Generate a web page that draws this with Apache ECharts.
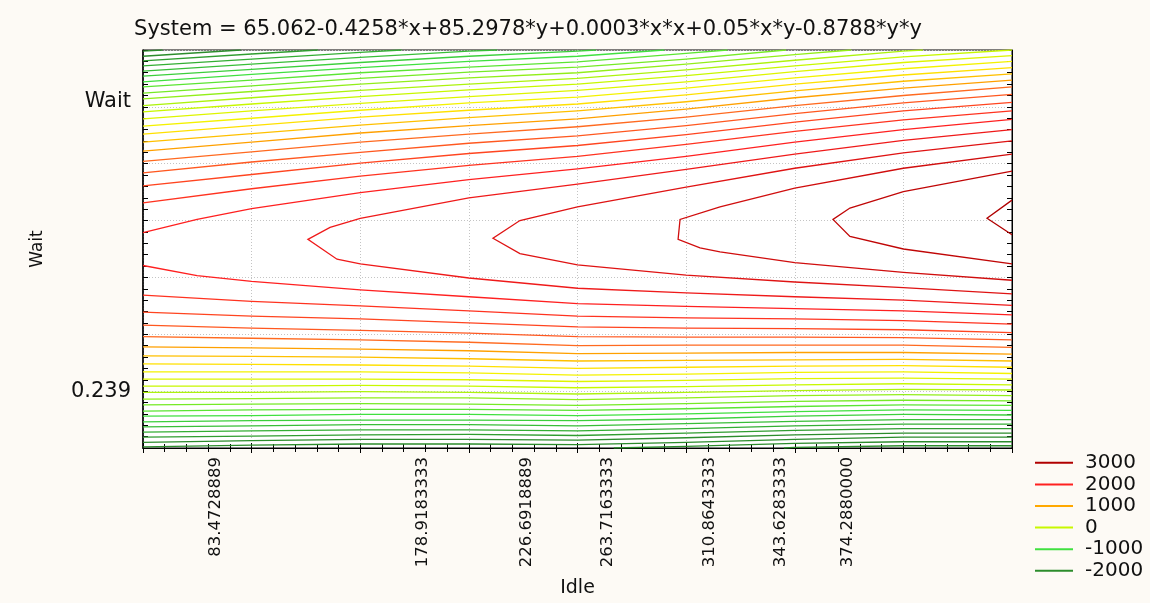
<!DOCTYPE html>
<html>
<head>
<meta charset="utf-8">
<script src="https://cdn.jsdelivr.net/npm/echarts@6/dist/echarts.min.js"></script>
<style>
  html, body { margin: 0; padding: 0; background: #fdfaf5; }
  #chart { width: 1150px; height: 603px; }
</style>
</head>
<body>
<div id="chart"></div>
<script>
const titleText = 'System = 65.062-0.4258*x+85.2978*y+0.0003*x*x+0.05*x*y-0.8788*y*y'

const legendLevels = [3000, 2000, 1000, 0, -1000, -2000]
const legendColors = ['#b00000', '#ff2020', '#ffa800', '#c8f800', '#40e040', '#2c8c2c']
// colour ramp used for the individual contour lines
const rampLevels = [3000, 2000, 1200, 1000, 500, 0, -1000, -2000]
const rampColors = ['#b00000', '#ff2020', '#ff6a20', '#ffa000', '#fff000', '#c8f800', '#40e040', '#2c8c2c']

const xTickValues = [83.4728889, 178.9183333, 226.6918889, 263.7163333, 310.8643333, 343.6283333, 374.2880000]
const xTickLabels = ['83.4728889', '178.9183333', '226.6918889', '263.7163333', '310.8643333', '343.6283333', '374.2880000']
const yTickValues = [1.0, 6.09]
const yTickLabels = ['0.239', 'Wait']

// contour lines above the ridge
const upperLevels = [2000, 1800, 1600, 1400, 1200, 1000, 800, 600, 400, 200, 0,
  -200, -400, -600, -800, -1000, -1200, -1400, -1600, -1800, -2000, -2200]
const upperLines = [
  [[50, 3.79], [74.9, 4.02], [100, 4.21], [150, 4.49], [200, 4.72], [250, 4.91], [300, 5.13], [350, 5.38], [400, 5.60], [450, 5.78]],
  [[50, 4.31], [100, 4.56], [150, 4.78], [200, 4.97], [250, 5.13], [300, 5.34], [350, 5.57], [400, 5.77], [450, 5.93]],
  [[50, 4.61], [100, 4.81], [150, 5.01], [200, 5.18], [250, 5.32], [300, 5.51], [350, 5.73], [400, 5.93], [450, 6.08]],
  [[50, 4.84], [100, 5.03], [150, 5.20], [200, 5.36], [250, 5.49], [300, 5.67], [350, 5.88], [400, 6.07], [450, 6.22]],
  [[50, 5.04], [100, 5.21], [150, 5.38], [200, 5.52], [250, 5.65], [300, 5.82], [350, 6.02], [400, 6.20], [450, 6.35]],
  [[50, 5.22], [100, 5.38], [150, 5.54], [200, 5.67], [250, 5.79], [300, 5.96], [350, 6.16], [400, 6.33], [450, 6.47]],
  [[50, 5.38], [100, 5.53], [150, 5.68], [200, 5.81], [250, 5.93], [300, 6.09], [350, 6.28], [400, 6.45], [450, 6.58]],
  [[50, 5.52], [100, 5.67], [150, 5.82], [200, 5.94], [250, 6.05], [300, 6.21], [350, 6.40], [400, 6.56], [450, 6.69]],
  [[50, 5.66], [100, 5.80], [150, 5.94], [200, 6.07], [250, 6.17], [300, 6.33], [350, 6.51], [400, 6.67], [450, 6.80]],
  [[50, 5.79], [100, 5.93], [150, 6.06], [200, 6.18], [250, 6.29], [300, 6.44], [350, 6.62], [400, 6.78], [450, 6.90]],
  [[50, 5.91], [100, 6.05], [150, 6.18], [200, 6.30], [250, 6.40], [300, 6.55], [350, 6.72], [400, 6.88], [450, 7.00]],
  [[50, 6.02], [100, 6.16], [150, 6.29], [200, 6.40], [250, 6.50], [300, 6.65], [350, 6.82], [400, 6.98], [409, 7]],
  [[50, 6.14], [100, 6.27], [150, 6.40], [200, 6.51], [250, 6.60], [300, 6.75], [350, 6.92], [376, 7]],
  [[50, 6.24], [100, 6.37], [150, 6.50], [200, 6.61], [250, 6.70], [300, 6.84], [346, 7]],
  [[50, 6.35], [100, 6.47], [150, 6.60], [200, 6.70], [250, 6.79], [300, 6.94], [319, 7]],
  [[50, 6.44], [100, 6.57], [150, 6.69], [200, 6.80], [250, 6.89], [290, 7]],
  [[50, 6.54], [100, 6.66], [150, 6.78], [200, 6.89], [250, 6.98], [258.5, 7]],
  [[50, 6.63], [100, 6.75], [150, 6.87], [200, 6.98], [213, 7]],
  [[50, 6.72], [100, 6.84], [150, 6.96], [169, 7]],
  [[50, 6.81], [100, 6.93], [130.5, 7]],
  [[50, 6.89], [95, 7]],
  [[50, 6.98], [59, 7]]
]

// contour lines below the ridge
const lowerLevels = [2000, 1800, 1600, 1400, 1200, 1000, 800, 600, 400, 200, 0,
  -200, -400, -600, -800, -1000, -1200, -1400, -1600, -1800, -2000, -2200, -2400, -2600]
const lowerLines = [
  [[50, 3.21], [74.9, 3.03], [100, 2.93], [150, 2.78], [200, 2.66], [250, 2.54], [300, 2.49], [350, 2.45], [400, 2.41], [450, 2.34]],
  [[50, 2.69], [100, 2.58], [150, 2.50], [200, 2.41], [250, 2.32], [300, 2.29], [350, 2.27], [400, 2.24], [450, 2.18]],
  [[50, 2.39], [100, 2.32], [150, 2.27], [200, 2.20], [250, 2.13], [300, 2.11], [350, 2.10], [400, 2.08], [450, 2.03]],
  [[50, 2.16], [100, 2.11], [150, 2.07], [200, 2.02], [250, 1.96], [300, 1.95], [350, 1.95], [400, 1.94], [450, 1.90]],
  [[50, 1.96], [100, 1.93], [150, 1.90], [200, 1.86], [250, 1.80], [300, 1.81], [350, 1.81], [400, 1.81], [450, 1.77]],
  [[50, 1.78], [100, 1.76], [150, 1.74], [200, 1.71], [250, 1.66], [300, 1.67], [350, 1.68], [400, 1.68], [450, 1.65]],
  [[50, 1.62], [100, 1.61], [150, 1.60], [200, 1.57], [250, 1.53], [300, 1.54], [350, 1.55], [400, 1.56], [450, 1.53]],
  [[50, 1.48], [100, 1.47], [150, 1.46], [200, 1.44], [250, 1.40], [300, 1.42], [350, 1.44], [400, 1.45], [450, 1.42]],
  [[50, 1.34], [100, 1.34], [150, 1.34], [200, 1.32], [250, 1.28], [300, 1.30], [350, 1.33], [400, 1.34], [450, 1.31]],
  [[50, 1.21], [100, 1.21], [150, 1.21], [200, 1.20], [250, 1.17], [300, 1.19], [350, 1.22], [400, 1.23], [450, 1.21]],
  [[50, 1.09], [100, 1.09], [150, 1.10], [200, 1.09], [250, 1.06], [300, 1.08], [350, 1.11], [400, 1.13], [450, 1.11]],
  [[50, 0.98], [100, 0.98], [150, 0.99], [200, 0.98], [250, 0.95], [300, 0.98], [350, 1.01], [400, 1.03], [450, 1.02]],
  [[50, 0.86], [100, 0.87], [150, 0.88], [200, 0.88], [250, 0.85], [300, 0.88], [350, 0.92], [400, 0.94], [450, 0.92]],
  [[50, 0.76], [100, 0.77], [150, 0.78], [200, 0.77], [250, 0.75], [300, 0.78], [350, 0.82], [400, 0.84], [450, 0.83]],
  [[50, 0.65], [100, 0.67], [150, 0.68], [200, 0.68], [250, 0.66], [300, 0.69], [350, 0.73], [400, 0.76], [450, 0.75]],
  [[50, 0.56], [100, 0.57], [150, 0.59], [200, 0.59], [250, 0.57], [300, 0.60], [350, 0.64], [400, 0.67], [450, 0.66]],
  [[50, 0.46], [100, 0.48], [150, 0.49], [200, 0.49], [250, 0.48], [300, 0.51], [350, 0.56], [400, 0.59], [450, 0.58]],
  [[50, 0.37], [100, 0.39], [150, 0.41], [200, 0.41], [250, 0.39], [300, 0.43], [350, 0.47], [400, 0.50], [450, 0.50]],
  [[50, 0.28], [100, 0.30], [150, 0.32], [200, 0.32], [250, 0.30], [300, 0.34], [350, 0.39], [400, 0.42], [450, 0.42]],
  [[50, 0.19], [100, 0.21], [150, 0.23], [200, 0.24], [250, 0.22], [300, 0.26], [350, 0.31], [400, 0.34], [450, 0.34]],
  [[50, 0.10], [100, 0.13], [150, 0.15], [200, 0.15], [250, 0.14], [300, 0.18], [350, 0.23], [400, 0.26], [450, 0.26]],
  [[50, 0.02], [100, 0.05], [150, 0.07], [200, 0.07], [250, 0.06], [300, 0.10], [350, 0.15], [400, 0.19], [450, 0.19]],
  [[266.7, 0], [300, 0.03], [350, 0.08], [400, 0.11], [450, 0.11]],
  [[345, 0], [350, 0.01], [400, 0.04], [450, 0.04]]
]

// contours that close around the rising ridge (open to the right edge)
const peakLevels = [2200, 2400, 2600, 2800, 3000]
const peakLines = [
  [[450, 5.60], [400, 5.41], [350, 5.17], [300, 4.90], [250, 4.64], [200, 4.40], [150, 4.04], [136.1, 3.88], [125.9, 3.67],
    [139.3, 3.32], [150, 3.24], [200, 2.99], [250, 2.81], [300, 2.73], [350, 2.66], [400, 2.60], [450, 2.51]],
  [[450, 5.40], [400, 5.19], [350, 4.92], [300, 4.59], [250, 4.24], [223.5, 4.00], [211.1, 3.69],
    [223.5, 3.42], [250, 3.22], [300, 3.04], [350, 2.92], [400, 2.82], [450, 2.71]],
  [[450, 5.17], [400, 4.92], [350, 4.57], [315.6, 4.24], [297.2, 4.02], [296.3, 3.67],
    [306.4, 3.52], [315.6, 3.45], [350, 3.26], [400, 3.09], [450, 2.95]],
  [[450, 4.87], [400, 4.51], [375.4, 4.22], [367.6, 4.02], [375.4, 3.72], [400, 3.50], [450, 3.24]],
  [[450, 4.36], [438.5, 4.04], [450, 3.75]]
]

function hexToRgb(h) {
  return [parseInt(h.slice(1, 3), 16), parseInt(h.slice(3, 5), 16), parseInt(h.slice(5, 7), 16)]
}

function colorFor(level) {
  const lv = rampLevels
  if (level >= lv[0]) return rampColors[0]
  if (level <= lv[lv.length - 1]) return rampColors[lv.length - 1]
  for (let i = 0; i < lv.length - 1; i++) {
    if (level <= lv[i] && level >= lv[i + 1]) {
      const t = (lv[i] - level) / (lv[i] - lv[i + 1])
      const a = hexToRgb(rampColors[i])
      const b = hexToRgb(rampColors[i + 1])
      const c = a.map((v, k) => Math.round(v + (b[k] - v) * t))
      return 'rgb(' + c.join(',') + ')'
    }
  }
  return '#000'
}

function bandOf(level) {
  let best = 0
  legendLevels.forEach((l, i) => {
    if (Math.abs(level - l) < Math.abs(level - legendLevels[best])) best = i
  })
  return best
}

function labelFor(values, labels) {
  return v => {
    let best = 0
    values.forEach((t, i) => {
      if (Math.abs(t - v) < Math.abs(values[best] - v)) best = i
    })
    return labels[best]
  }
}

const contours = []
upperLines.forEach((pts, i) => contours.push({ level: upperLevels[i], coords: pts }))
lowerLines.forEach((pts, i) => contours.push({ level: lowerLevels[i], coords: pts }))
peakLines.forEach((pts, i) => contours.push({ level: peakLevels[i], coords: pts }))

const series = legendLevels.map((l, b) => ({
  type: 'lines',
  name: String(l),
  coordinateSystem: 'cartesian2d',
  polyline: true,
  silent: true,
  lineStyle: { color: legendColors[b], width: 1.3, opacity: 1 },
  data: contours
    .filter(c => bandOf(c.level) === b)
    .map(c => ({ coords: c.coords, lineStyle: { color: colorFor(c.level), width: 1.3, opacity: 1 } }))
}))

const font = 'DejaVu Sans'
const gridDots = { show: true, lineStyle: { color: '#c4c4c4', type: [1, 2], width: 1 } }

const chart = echarts.init(document.getElementById('chart'))
chart.setOption({
  backgroundColor: '#fdfaf5',
  animation: false,
  title: {
    text: titleText,
    left: 523,
    textAlign: 'center',
    top: 14,
    textStyle: { fontFamily: font, fontSize: 21, fontWeight: 'normal', color: '#111' }
  },
  legend: {
    orient: 'vertical',
    left: 1030,
    top: 447,
    itemWidth: 38,
    itemHeight: 2,
    itemGap: 0,
    icon: 'rect',
    selectedMode: false,
    textStyle: { fontFamily: font, fontSize: 20, color: '#111', lineHeight: 21.6, padding: [0, 0, 0, 7] },
    data: legendLevels.map((l, i) => ({
      name: String(l),
      itemStyle: { color: legendColors[i], borderWidth: 0 },
      lineStyle: { width: 0 }
    }))
  },
  grid: {
    left: 143, right: 138, top: 50, bottom: 151,
    show: true, backgroundColor: '#ffffff', borderColor: '#000', borderWidth: 1
  },
  xAxis: [{
    type: 'value',
    min: 50, max: 450, interval: 50,
    name: 'Idle',
    nameLocation: 'middle',
    nameGap: 131,
    nameTextStyle: { fontFamily: font, fontSize: 19, color: '#111' },
    axisLine: { show: true, onZero: false, lineStyle: { color: '#000' } },
    axisTick: { show: true, inside: true, length: 5, lineStyle: { color: '#000' } },
    minorTick: { show: true, splitNumber: 5, length: 4, lineStyle: { color: '#000' } },
    splitLine: gridDots,
    axisLabel: {
      customValues: xTickValues,
      rotate: 90,
      margin: 9,
      fontFamily: font, fontSize: 16.5, color: '#111',
      formatter: labelFor(xTickValues, xTickLabels)
    }
  }, {
    type: 'value',
    position: 'top',
    min: 50, max: 450, interval: 50,
    axisLine: { show: true, lineStyle: { color: '#000' } },
    axisTick: { show: true, inside: true, length: 5, lineStyle: { color: '#000' } },
    minorTick: { show: true, splitNumber: 5, length: 4, lineStyle: { color: '#000' } },
    splitLine: { show: false },
    axisLabel: { show: false }
  }],
  yAxis: [{
    type: 'value',
    min: 0, max: 7, interval: 1,
    name: 'Wait',
    nameLocation: 'middle',
    nameGap: 97,
    nameTextStyle: { fontFamily: font, fontSize: 17, color: '#111' },
    axisLine: { show: true, onZero: false, lineStyle: { color: '#000', width: 1.5 } },
    axisTick: { show: true, inside: true, length: 5, lineStyle: { color: '#000' } },
    minorTick: { show: true, splitNumber: 5, length: 5, lineStyle: { color: '#000' } },
    splitLine: gridDots,
    axisLabel: {
      customValues: yTickValues,
      margin: 12,
      fontFamily: font, fontSize: 21, color: '#111',
      formatter: labelFor(yTickValues, yTickLabels)
    }
  }, {
    type: 'value',
    position: 'right',
    min: 0, max: 7, interval: 1,
    axisLine: { show: true, lineStyle: { color: '#000' } },
    axisTick: { show: true, inside: true, length: 5, lineStyle: { color: '#000' } },
    minorTick: { show: true, splitNumber: 5, length: 5, lineStyle: { color: '#000' } },
    splitLine: { show: false },
    axisLabel: { show: false }
  }],
  series: series
})
</script>
</body>
</html>
